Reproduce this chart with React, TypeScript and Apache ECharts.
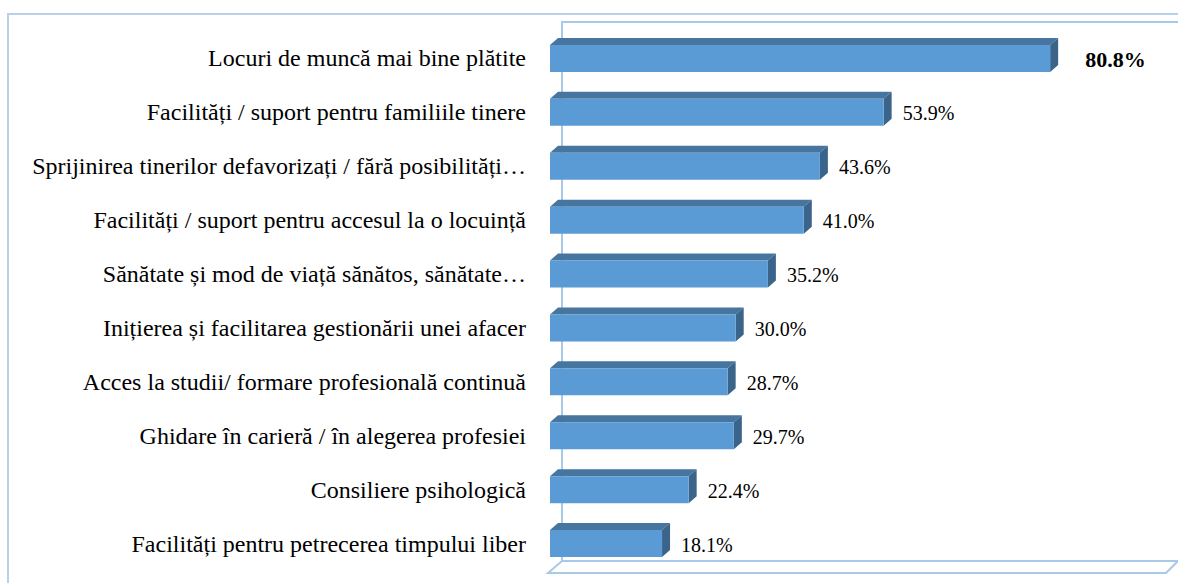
import React, { useEffect, useRef } from "react";
import * as echarts from "echarts";

const categories = [
  "Locuri de muncă mai bine plătite",
  "Facilități / suport pentru familiile tinere",
  "Sprijinirea tinerilor defavorizați / fără posibilități…",
  "Facilități / suport pentru accesul la o locuință",
  "Sănătate și mod de viață sănătos, sănătate…",
  "Inițierea și facilitarea gestionării unei afacer",
  "Acces la studii/ formare profesională continuă",
  "Ghidare în carieră / în alegerea profesiei",
  "Consiliere psihologică",
  "Facilități pentru petrecerea timpului liber",
];
const values = [80.8, 53.9, 43.6, 41.0, 35.2, 30.0, 28.7, 29.7, 22.4, 18.1];
const boldIndex = [0];

const GRID_LEFT = 550;
const GRID_TOP = 31.5;
const GRID_W = 619;
const GRID_H = 539;
const AXIS_MAX = 100;

const FONT = "Liberation Serif";
const WALL = "#A9C9E9";

export default function App() {
  const ref = useRef<HTMLDivElement>(null);
  useEffect(() => {
    document.body.style.margin = "0";
    if (!ref.current) return;
    const chart = echarts.init(ref.current, undefined, { renderer: "svg" });
    const data = values.map((v, i) => [v, i]);
    chart.setOption({
      animation: false,
      backgroundColor: "#ffffff",
      grid: { left: GRID_LEFT, top: GRID_TOP, width: GRID_W, height: GRID_H, containLabel: false },
      xAxis: { type: "value", min: 0, max: AXIS_MAX, show: false },
      yAxis: {
        type: "category",
        data: categories,
        inverse: true,
        axisLine: { show: false },
        axisTick: { show: false },
        splitLine: { show: false },
        axisLabel: { margin: 24, fontSize: 24, fontFamily: FONT, color: "#000" },
      },
      graphic: [
        { type: "rect", shape: { x: 8, y: 14, width: 1300, height: 700 }, style: { fill: "none", stroke: "#B8D1EA", lineWidth: 2 }, silent: true, z: -10 },
        { type: "polyline", shape: { points: [[1190, 22], [562, 22], [562, 561]] }, style: { fill: "none", stroke: WALL, lineWidth: 2 }, silent: true, z: -5 },
        { type: "polygon", shape: { points: [[562, 561], [1178, 561], [1166, 573], [548, 573]] }, style: { fill: "#fff", stroke: WALL, lineWidth: 2 }, silent: true, z: -5 },
      ],
      series: [
        {
          type: "custom",
          data,
          encode: { x: 0, y: 1 },
          renderItem: (params: any, api: any) => {
            const v = api.value(0);
            const c = api.value(1);
            const start = api.coord([0, c]);
            const end = api.coord([v, c]);
            const h = 27;
            const dx = 8;
            const dy = 7;
            const x0 = start[0];
            const x1 = end[0];
            const y0 = start[1] - h / 2;
            const bold = boldIndex.includes(params.dataIndex);
            return {
              type: "group",
              children: [
                { type: "polygon", shape: { points: [[x0, y0], [x0 + dx, y0 - dy], [x1 + dx, y0 - dy], [x1, y0]] }, style: { fill: "#46759F" } },
                { type: "polygon", shape: { points: [[x1, y0], [x1 + dx, y0 - dy], [x1 + dx, y0 + h - dy], [x1, y0 + h]] }, style: { fill: "#3A6489" } },
                { type: "rect", shape: { x: x0, y: y0, width: x1 - x0, height: h }, style: { fill: "#5B9BD5" } },
                {
                  type: "text",
                  style: {
                    text: v.toFixed(1) + "%",
                    x: x1 + dx + (bold ? 27 : 11),
                    y: start[1] + 1,
                    verticalAlign: "middle",
                    align: "left",
                    fontFamily: FONT,
                    fontSize: bold ? 22 : 20,
                    fontWeight: bold ? "bold" : "normal",
                    fill: "#000",
                  },
                },
              ],
            };
          },
        },
      ],
    });
    return () => chart.dispose();
  }, []);
  return <div ref={ref} style={{ width: 1178, height: 583 }} />;
}
